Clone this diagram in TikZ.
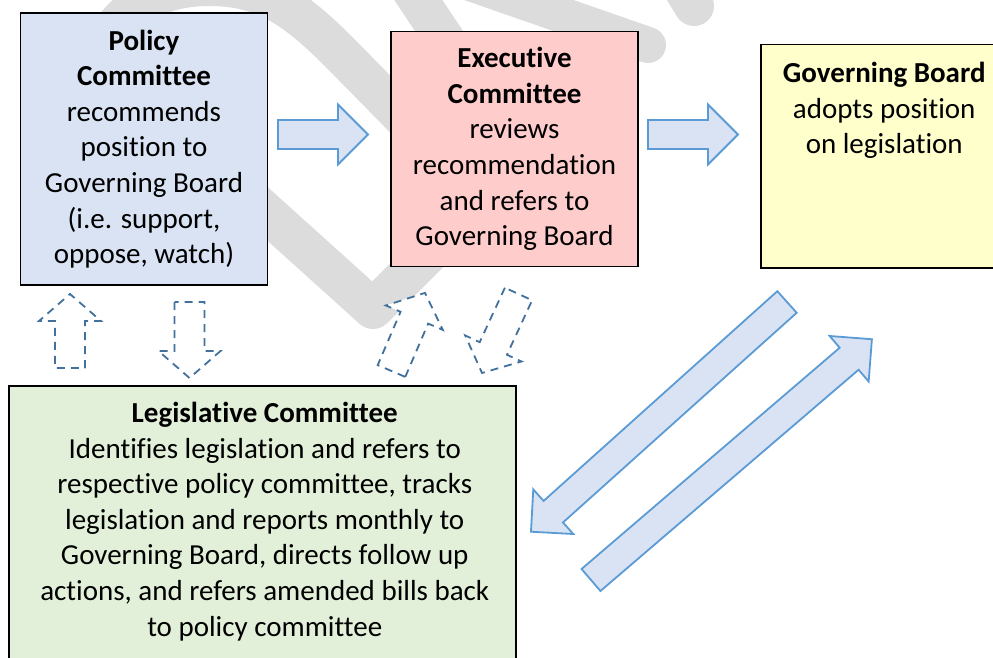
\documentclass[tikz,border=0pt]{standalone}
\usepackage{fontspec}
\setmainfont[Ligatures={NoCommon,NoContextual},Contextuals=NoAlternate,RawFeature={-liga;-clig;-calt}]{Carlito}
\usetikzlibrary{positioning}
\definecolor{policyfill}{RGB}{218,227,243}
\definecolor{execfill}{RGB}{255,204,204}
\definecolor{govfill}{RGB}{255,255,204}
\definecolor{legisfill}{RGB}{226,240,217}
\definecolor{arrowfill}{RGB}{218,227,243}
\definecolor{arrowline}{RGB}{91,155,213}
\definecolor{dashblue}{RGB}{65,113,156}
\definecolor{wmarkgray}{RGB}{220,220,220}
\tikzset{
  box/.style={draw=black,line width=1.5pt,inner sep=0pt,minimum width=247pt,
    align=center,font=\fontsize{29}{35.6}\selectfont},
  txt/.style={inner sep=0pt,align=center,font=\fontsize{29}{35.6}\selectfont},
  blockline/.style={draw=arrowline,fill=arrowfill,line width=1.8pt},
  dashline/.style={draw=dashblue,fill=white,line width=1.8pt,
    dash pattern=on 8pt off 6pt},
  wmark/.style={draw=wmarkgray,line width=40pt,line cap=round,line join=round},
  pics/blockarrow/.style={code={
    \draw[blockline] (0,-14.5) -- (#1-30,-14.5) -- (#1-30,-30) -- (#1,0)
      -- (#1-30,30) -- (#1-30,14.5) -- (0,14.5) -- cycle;}},
  pics/dasharrow/.style={code={
    \draw[dashline] (0,-15) -- (#1-27,-15) -- (#1-27,-31) -- (#1,0)
      -- (#1-27,31) -- (#1-27,15) -- (0,15) -- cycle;}}
}
\begin{document}
\begin{tikzpicture}[x=1pt,y=1pt]
\useasboundingbox (0,0) rectangle (993,-658);
\clip (0,0) rectangle (993,-658);
% watermark
\draw[wmark] (100,-55) to[out=70,in=180] (210,14) to[out=0,in=135] (340,-53) -- (460,-175);
\draw[wmark] (200,-153) -- (373,-309) -- (470,-212);
\draw[wmark] (405,20) -- (445,-40);
\draw[wmark,line width=36pt] (470,17) -- (648,-45);
\draw[wmark] (672,30) -- (694,-6);
% boxes
\node[box,fill=policyfill,minimum height=272pt] (policy) at (144,-149)
  {\textbf{Policy}\\\textbf{Committee}\\recommends\\position to\\Governing Board\\(i.e. support,\\oppose, watch)};
\node[box,fill=execfill,minimum height=235pt,right=122pt of policy] (exec)
  {\textbf{Executive}\\\textbf{Committee}\\reviews\\recommendation\\and refers to\\Governing Board};
\node[box,fill=govfill,minimum height=223pt,anchor=north west] (gov) at (760,-44) {};
\node[txt,below=18pt of gov.north] (govtext)
  {\textbf{Governing Board}\\adopts position\\on legislation};
\node[box,fill=legisfill,minimum width=507pt,minimum height=300pt,anchor=north west] (legis) at (8,-385) {};
\node[txt,below=17pt of legis.north,xshift=2.5pt] (legistext)
  {\textbf{Legislative Committee}\\Identifies legislation and refers to\\respective policy committee, tracks\\legislation and reports monthly to\\Governing Board, directs follow up\\actions, and refers amended bills back\\to policy committee};
% block arrows
\pic (toexec) at (278,-134.5) {blockarrow=90};
\pic (togov) at (648,-134.5) {blockarrow=90};
\pic[rotate=221.9] (tolegis) at (787,-302) {blockarrow=344};
\pic[rotate=40.6] (fromlegis) at (591,-580) {blockarrow=370};
% dashed arrows
\pic[rotate=90] (uppolicy) at (70,-368) {dasharrow=74};
\pic[rotate=-90] (downpolicy) at (189.5,-302) {dasharrow=76};
\pic[rotate=66.8] (upexec) at (391.5,-371) {dasharrow=85};
\pic[rotate=245.2] (downexec) at (518.5,-294) {dasharrow=87};
\end{tikzpicture}
\end{document}
